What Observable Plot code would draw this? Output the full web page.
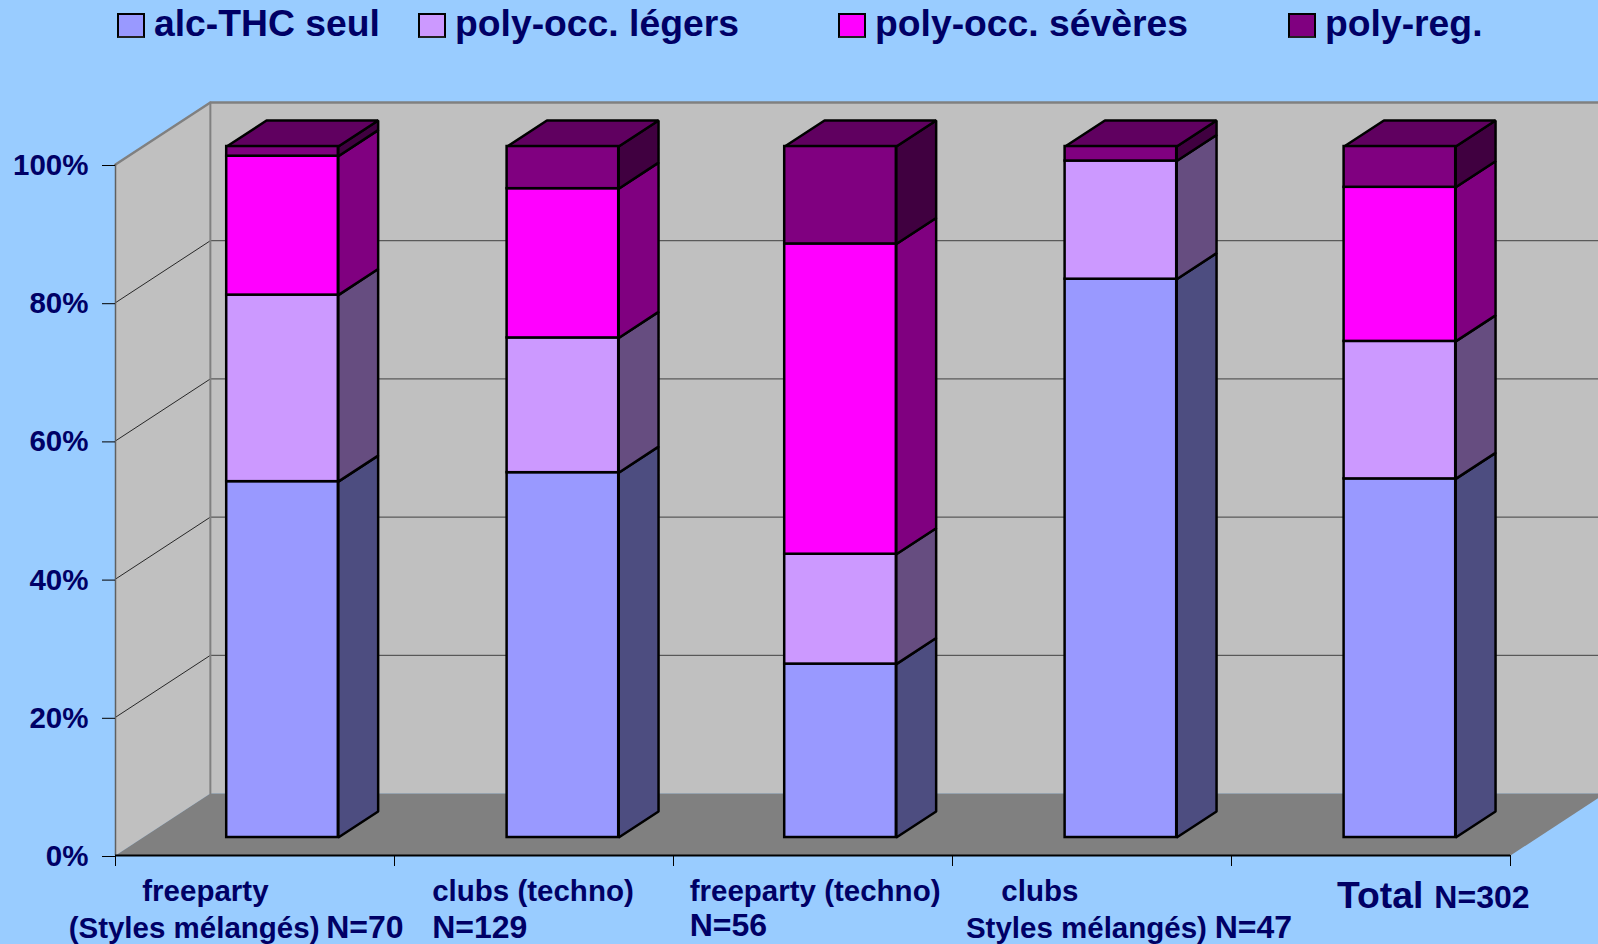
<!DOCTYPE html>
<html lang="fr">
<head>
<meta charset="utf-8">
<script src="https://cdn.jsdelivr.net/npm/d3@7"></script>
<script src="https://cdn.jsdelivr.net/npm/@observablehq/plot@0.6"></script>
<style>
  html, body { margin: 0; padding: 0; background: #99CCFF; overflow: hidden; }
  svg { display: block; }
  #legend { position: relative; height: 90px; width: 1598px; font: bold 37.3px "Liberation Sans", Arial, sans-serif; color: #000066; }
  #legend .sw { position: absolute; top: 13px; width: 28px; height: 25px; box-sizing: border-box; border: 2.5px solid #000; border-bottom-color: #222; }
  #legend .tx { position: absolute; top: 2.5px; line-height: 40px; white-space: nowrap; }
</style>
</head>
<body>
<div id="legend"></div>
<div id="chart"></div>
<script>
// ---- data -------------------------------------------------------------
const categories = ["freeparty (Styles mélangés)", "clubs (techno)", "freeparty (techno)", "clubs (Styles mélangés)", "Total"];
const series = ["alc-THC seul", "poly-occ. légers", "poly-occ. sévères", "poly-reg."];
const alcThcSeul   = [51.5, 52.8, 25.1, 80.8, 51.9];
const polyLegers   = [27.0, 19.5, 15.9, 17.1, 19.9];
const polySeveres  = [20.1, 21.6, 44.9,  0.0, 22.3];
const polyReg      = [ 1.4,  6.1, 14.1,  2.1,  5.9];
const seriesValues = [alcThcSeul, polyLegers, polySeveres, polyReg];
const yTicks = [0, 20, 40, 60, 80, 100];
const xTicks = [0, 1, 2, 3, 4, 5];
const barCentres = [0.5, 1.505, 2.5, 3.505, 4.505];

// ---- labels (x in category units, y in percent units) -----------------
const nameText = ["freeparty", "(Styles mélangés)", "clubs (techno)", "freeparty (techno)", "clubs", "Styles mélangés)"];
const nameX = [0.096, -0.168, 1.135, 2.058, 3.175, 3.048];
const nameY = [-6.6, -11.9, -6.6, -6.6, -6.6, -11.9];
const countText = ["N=70", "N=129", "N=56", "N=47", "N=302"];
const countX = [0.755, 1.135, 2.058, 3.94, 4.727];
const countY = [-11.9, -11.9, -11.6, -11.9, -7.6];
const totalLabel = {text: "Total", x: 4.378, y: -7.6};

// ---- styles ----------------------------------------------------------
const ink = "#000066";
const frontColors = ["#9999FF", "#CC99FF", "#FF00FF", "#800080"];
const sideColors  = ["#4D4D80", "#664D80", "#800080", "#400040"];
const topColor = "#600060";
const font = '"Liberation Sans", Arial, sans-serif';
const legendSwatchX = [117, 418, 838, 1288];
const legendTextX = [154, 455, 875, 1325];

// ---- oblique projection of the 3-D box ---------------------------------
const DEPTH_X = 0.34, DEPTH_Y = 8.97;         // full wall depth, in scale units
const BAR_D0 = 0.29, BAR_D1 = 0.71;           // bar's depth span within the box
const BAR_HALF = 0.2;
const project = (c, p, d) => ({x: c + d * DEPTH_X, y: p + d * DEPTH_Y});
const poly = (id, fill, pts) => pts.map(([c, p, d]) => ({id, fill, ...project(c, p, d)}));

// back wall, left wall, floor
const box = [
  ...poly("back", "#C0C0C0", [[0, 0, 1], [5.2, 0, 1], [5.2, 100, 1], [0, 100, 1]]),
  ...poly("left", "#C0C0C0", [[0, 0, 0], [0, 0, 1], [0, 100, 1], [0, 100, 0]]),
  ...poly("floor", "#808080", [[0, 0, 0], [5, 0, 0], [5, 0, 1], [0, 0, 1]])
];
const gridTicks = yTicks.filter(t => t > 0 && t < 100);
const backGrid = gridTicks.flatMap(t => [{t, ...project(0, t, 1)}, {t, ...project(5.2, t, 1)}]);
const leftGrid = gridTicks.flatMap(t => [{t, ...project(0, t, 0)}, {t, ...project(0, t, 1)}]);
const edge = [project(0, 100, 0), project(0, 100, 1), project(5.2, 100, 1)];
const backEdge = [project(0, 100, 1), project(0, 0, 1)];

// stacked segments
const fronts = [], sides = [], tops = [];
categories.forEach((cat, i) => {
  const x1 = barCentres[i] - BAR_HALF, x2 = barCentres[i] + BAR_HALF;
  let base = 0;
  series.forEach((s, k) => {
    const v = seriesValues[k][i];
    if (v > 0) {
      const a = base, b = base + v;
      const p1 = project(x1, a, BAR_D0), p2 = project(x2, b, BAR_D0);
      fronts.push({x1: p1.x, x2: p2.x, y1: p1.y, y2: p2.y, fill: frontColors[k]});
      sides.push(...poly(`s${i}-${k}`, sideColors[k], [[x2, a, BAR_D0], [x2, a, BAR_D1], [x2, b, BAR_D1], [x2, b, BAR_D0]]));
    }
    base += v;
  });
  tops.push(...poly(`t${i}`, topColor, [[x1, base, BAR_D0], [x2, base, BAR_D0], [x2, base, BAR_D1], [x1, base, BAR_D1]]));
});
const names = nameText.map((text, i) => ({text, x: nameX[i], y: nameY[i]}));
const counts = countText.map((text, i) => ({text, x: countX[i], y: countY[i]}));
const faceOpts = {x: "x", y: "y", z: "id", fill: "fill", stroke: "#000", strokeWidth: 2.5, strokeLinejoin: "miter", curve: "linear-closed"};
const textOpts = {x: "x", y: "y", text: "text", textAnchor: "start", lineAnchor: "bottom", fontWeight: "bold", fill: ink};

const chart = Plot.plot({
  width: 1598,
  height: 854,
  marginLeft: 115,
  marginRight: 88,
  marginTop: 74,
  marginBottom: 89,
  style: {background: "#99CCFF", fontFamily: font, fontWeight: "bold", overflow: "hidden"},
  x: {domain: [0, 5], label: null},
  y: {domain: [0, 100], label: null},
  marks: [
    Plot.line(box, {x: "x", y: "y", z: "id", fill: "fill", stroke: "none", curve: "linear-closed"}),
    Plot.line(backGrid, {x: "x", y: "y", z: "t", stroke: "#404040", strokeWidth: 1}),
    Plot.line(leftGrid, {x: "x", y: "y", z: "t", stroke: "#000", strokeWidth: 0.8}),
    Plot.line(edge, {x: "x", y: "y", stroke: "#808080", strokeWidth: 2.5}),
    Plot.line(backEdge, {x: "x", y: "y", stroke: "#808080", strokeWidth: 2}),
    Plot.ruleX([0], {y1: 0, y2: 100, stroke: "#606060", strokeWidth: 1.5}),
    Plot.ruleY([0], {x1: 0, x2: 5, stroke: "#000", strokeWidth: 2}),
    Plot.line(sides, faceOpts),
    Plot.line(tops, faceOpts),
    Plot.rect(fronts, {x1: "x1", x2: "x2", y1: "y1", y2: "y2", fill: "fill", stroke: "#000", strokeWidth: 2.5}),
    Plot.axisY({ticks: yTicks, tickSize: 13, tickPadding: 14, tickFormat: d => d + "%", fontSize: 29.5, fontWeight: "bold", stroke: "#000", fill: ink, dy: 1, label: null}),
    Plot.axisX({ticks: xTicks, tickSize: 11, tickFormat: () => "", stroke: "#000", label: null}),
    Plot.text(names, {...textOpts, fontSize: 29.5}),
    Plot.text(counts, {...textOpts, fontSize: 32}),
    Plot.text([totalLabel], {...textOpts, fontSize: 37.3})
  ]
});
document.getElementById("chart").appendChild(chart);

// ---- legend ----------------------------------------------------------
const legend = d3.select("#legend");
series.forEach((s, k) => {
  legend.append("div").attr("class", "sw").style("left", legendSwatchX[k] + "px").style("background", frontColors[k]);
  legend.append("div").attr("class", "tx").style("left", legendTextX[k] + "px").text(s);
});
</script>
</body>
</html>
